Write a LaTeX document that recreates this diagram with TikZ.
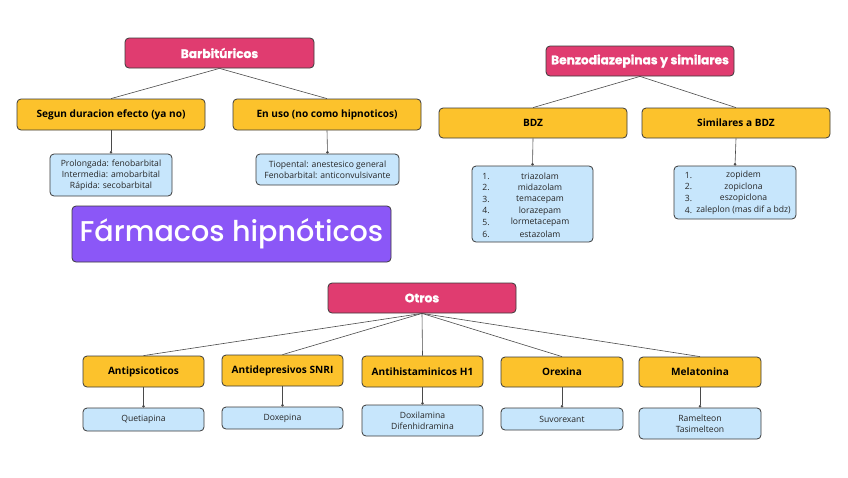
\documentclass[tikz,border=0pt]{standalone}
\usepackage{fontspec}
\setmainfont{Open Sans}
\newfontfamily\poppb{Poppins}[FakeBold=1.2]
\IfFontExistsTF{Poppins Medium}{\newfontfamily\popptitle{Poppins Medium}}{\newfontfamily\popptitle{Poppins}[FakeBold=3]}
\usetikzlibrary{arrows.meta}
\definecolor{pinkc}{HTML}{E03C70}
\definecolor{yelc}{HTML}{FCC22C}
\definecolor{bluec}{HTML}{C7E6FC}
\definecolor{purc}{HTML}{8B57F7}
\definecolor{edgec}{HTML}{3A3A3A}
\definecolor{linec}{HTML}{4A4A4A}
\tikzset{
  box/.style={draw=edgec, line width=0.8pt, rounded corners=4pt, inner sep=0pt, align=center},
  pinkbox/.style={box, fill=pinkc, text=white, font=\poppb\bfseries\fontsize{12.2}{14}\selectfont, minimum width=188pt, minimum height=30pt},
  yelbox/.style={box, fill=yelc, text=black, font=\bfseries\fontsize{10.1}{12}\selectfont, minimum height=31pt},
  bluebox/.style={box, fill=bluec, text=black!85, font=\fontsize{8.6}{11}\selectfont},
  listtxt/.style={inner sep=0pt, text=black!85, font=\fontsize{8.6}{10}\selectfont},
  conn/.style={draw=linec, line width=0.6pt},
  sub/.style={conn, -{Circle[length=2.6pt]}},
}
\begin{document}
\begin{tikzpicture}[x=1pt,y=-1pt]
\useasboundingbox (0,0) rectangle (848,477);
% Barbituricos
\node[pinkbox, minimum width=189pt] (barb) at (219.5,53) {Barbitúricos};
\node[yelbox, minimum width=188pt] (segun) at (111,114.5) {Segun duracion efecto (ya no)};
\node[yelbox, minimum width=188pt] (enuso) at (327,114.5) {En uso (no como hipnoticos)};
\node[bluebox, minimum width=122pt, minimum height=42pt] (bl1) at (111,175) {Prolongada: fenobarbital\\Intermedia: amobarbital\\Rápida: secobarbital};
\node[bluebox, minimum width=143pt, minimum height=31pt] (bl2) at (327.5,169.5) {Tiopental: anestesico general\\Fenobarbital: anticonvulsivante};
\draw[conn] (barb.south) -- (segun.north);
\draw[conn] (barb.south) -- (enuso.north);
\draw[sub] (segun.south) -- (bl1.north);
\draw[sub] (enuso.south) -- (bl2.north);
% Title
\node[box, fill=purc, text=white, minimum width=319pt, minimum height=56pt, font=\popptitle\fontsize{28.6}{32}\selectfont] (farm) at (231.5,234) {Fármacos hipnóticos};
% Benzodiazepinas
\node[pinkbox] (benzo) at (640,61) {Benzodiazepinas y similares};
\node[yelbox, minimum width=188pt, minimum height=30pt] (bdz) at (533,123) {BDZ};
\node[yelbox, minimum width=188pt, minimum height=30pt] (sim) at (736,123) {Similares a BDZ};
\node[bluebox, minimum width=121pt, minimum height=76pt] (bl3) at (532.5,204) {};
\node[bluebox, minimum width=122pt, minimum height=53pt] (bl4) at (735,192.5) {};
\draw[conn] (benzo.south) -- (bdz.north);
\draw[conn] (benzo.south) -- (sim.north);
\draw[sub] (bdz.south) -- (bl3.north);
\draw[sub] (sim.south) -- (bl4.north);
\foreach \t [count=\i] in {triazolam,midazolam,temacepam,lorazepam,lormetacepam,estazolam}{
  \node[listtxt] (bdzn\i) at (486,{164.5+11.6*\i}) {\i.};
  \node[listtxt] (bdzt\i) at (540,{164.5+11.6*\i}) {\t};
}
\foreach \t [count=\i] in {zopidem,zopiclona,eszopiclona,{zaleplon (mas dif a bdz)}}{
  \node[listtxt] (simn\i) at (688.5,{163.5+11.7*\i}) {\i.};
  \node[listtxt] (simt\i) at (743.5,{163.5+11.7*\i}) {\t};
}
% Otros
\node[pinkbox] (otros) at (422,298) {Otros};
\node[yelbox, minimum width=121pt] (antip) at (143.5,371.5) {Antipsicoticos};
\node[yelbox, minimum width=121pt] (antid) at (282.5,370.5) {Antidepresivos SNRI};
\node[yelbox, minimum width=121pt] (antih) at (422.5,371.5) {Antihistaminicos H1};
\node[yelbox, minimum width=122pt, minimum height=30pt] (orex) at (562,372) {Orexina};
\node[yelbox, minimum width=122pt, minimum height=30pt] (mela) at (700,372) {Melatonina};
\node[bluebox, minimum width=121pt, minimum height=23pt] (quet) at (143.5,419.5) {Quetiapina};
\node[bluebox, minimum width=121pt, minimum height=22pt] (doxe) at (282.5,418) {Doxepina};
\node[bluebox, minimum width=121pt, minimum height=31pt] (doxi) at (422.5,420.5) {Doxilamina\\Difenhidramina};
\node[bluebox, minimum width=122pt, minimum height=22pt] (suvo) at (562,419) {Suvorexant};
\node[bluebox, minimum width=122pt, minimum height=31pt] (rame) at (700,423.5) {Ramelteon\\Tasimelteon};
\foreach \c in {antip,antid,antih,orex,mela}{\draw[conn] (otros.south) -- (\c.north);}
\draw[sub] (antip.south) -- (quet.north);
\draw[sub] (antid.south) -- (doxe.north);
\draw[sub] (antih.south) -- (doxi.north);
\draw[sub] (orex.south) -- (suvo.north);
\draw[sub] (mela.south) -- (rame.north);
\end{tikzpicture}
\end{document}
